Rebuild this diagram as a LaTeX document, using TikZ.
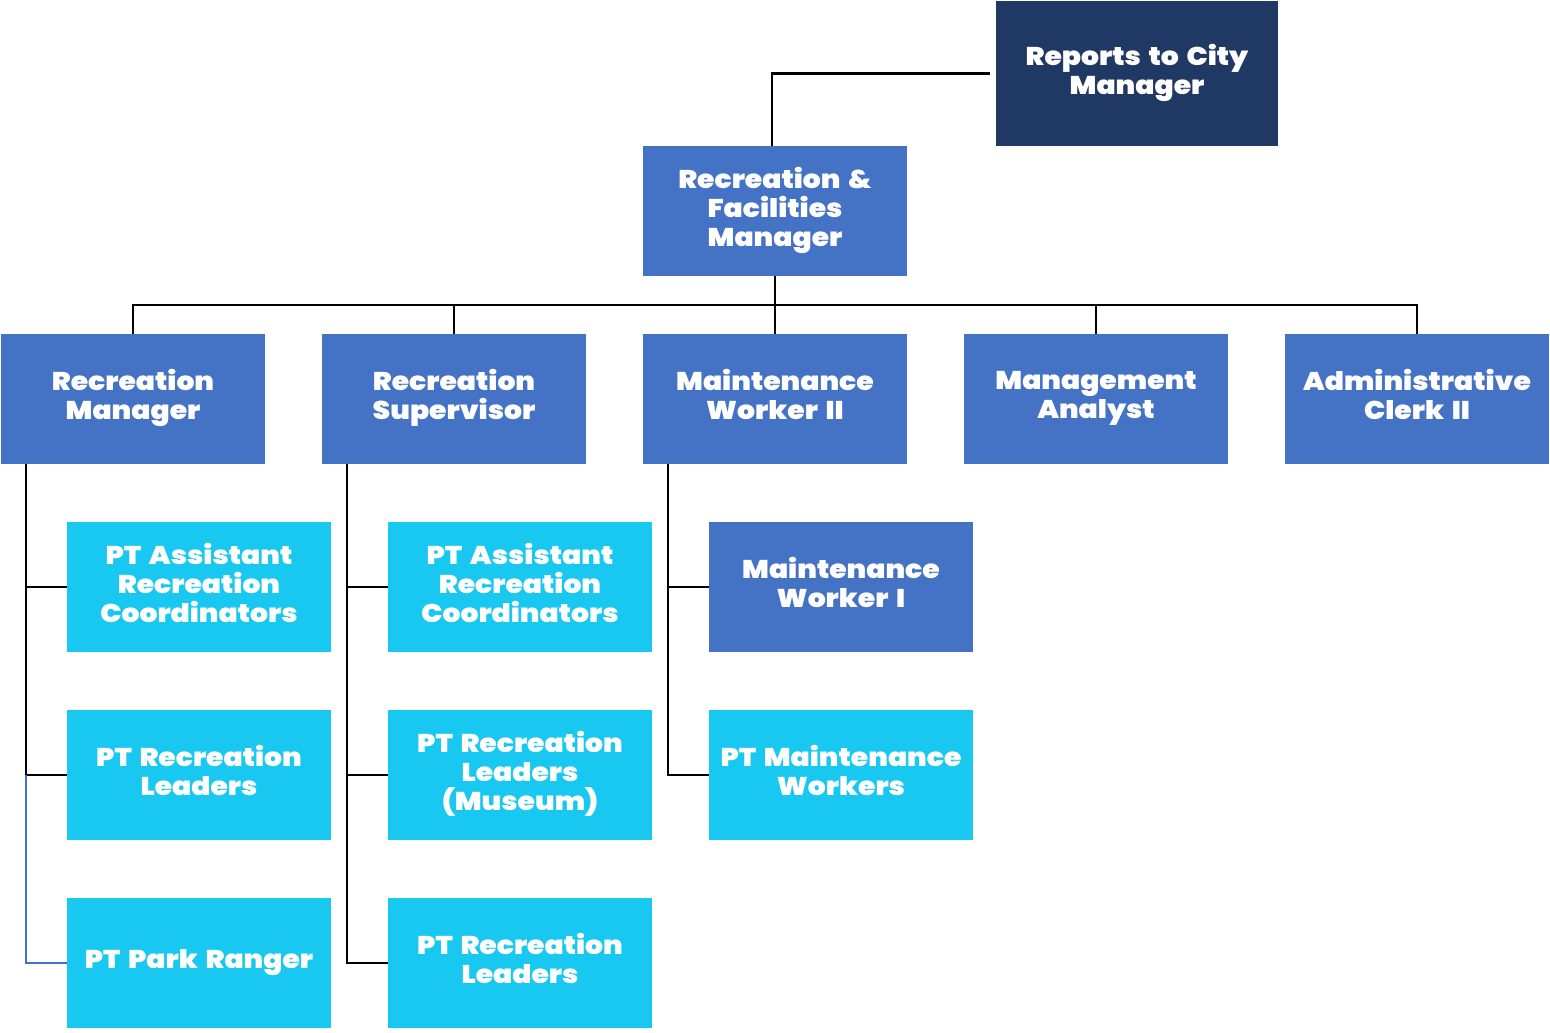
\documentclass[tikz,border=0pt]{standalone}
\usepackage{fontspec}
\setmainfont{Poppins}[BoldFont={Poppins Black},BoldFeatures={FakeStretch=1.1,WordSpace=1.6}]
\usetikzlibrary{positioning}

\definecolor{darkbox}{HTML}{203864}
\definecolor{midbox}{HTML}{4472C4}
\definecolor{lightbox}{HTML}{18C8F0}

\begin{document}
\begin{tikzpicture}[auto,line width=0.6pt]
\tikzstyle{post}=[rectangle,fill=midbox,text=white,inner sep=0pt,outer sep=0pt,minimum width=2.64cm,minimum height=1.30cm,align=center,font=\fontsize{7.3}{8.2}\selectfont\bfseries,execute at begin node=\strut,execute at end node=\strut]
\tikzstyle{part}=[post,fill=lightbox]
\tikzstyle{head}=[post,fill=darkbox,minimum width=2.82cm,minimum height=1.45cm]

\useasboundingbox (0,0) rectangle (15.5,-10.32);

%\node[post] (Z) at (0,0) {};
\node[post]         (B) at (7.75,-2.11) {Recreation \&\\Facilities\\Manager};
\node[head]         (A) [above right=0cm and 0.89cm of B] {Reports to City\\Manager};
\node[post]         (E) [below=0.58cm of B] {Maintenance\\Worker II};
\node[post]         (D) [left=0.57cm of E] {Recreation\\Supervisor};
\node[post]         (C) [left=0.57cm of D] {Recreation\\Manager};
\node[post]         (F) [right=0.57cm of E] {Management\\Analyst};
\node[post]         (G) [right=0.57cm of F] {Administrative\\Clerk II};
\node[part]         (H) [below=0.58cm of C,xshift=0.66cm] {PT Assistant\\Recreation\\Coordinators};
\node[part]         (I) [below=0.58cm of H] {PT Recreation\\Leaders};
\node[part]         (J) [below=0.58cm of I] {PT Park Ranger};
\node[part]         (K) [below=0.58cm of D,xshift=0.66cm] {PT Assistant\\Recreation\\Coordinators};
\node[part]         (L) [below=0.58cm of K] {PT Recreation\\Leaders\\(Museum)};
\node[part]         (M) [below=0.58cm of L] {PT Recreation\\Leaders};
\node[post]         (N) [below=0.58cm of E,xshift=0.66cm] {Maintenance\\Worker I};
\node[part]         (O) [below=0.58cm of N] {PT Maintenance\\Workers};

\coordinate (P) at ([xshift=-0.06cm]A.west);
\coordinate (Q) at ([yshift=-0.29cm]B.south);
\coordinate (R) at ([xshift=0.25cm]C.south west);
\coordinate (S) at ([xshift=0.25cm]D.south west);
\coordinate (T) at ([xshift=0.25cm]E.south west);

\draw (P) -| ([xshift=-0.03cm]B.north);
\draw[line width=0.8pt] (B.south) -- (Q);
\draw[line width=0.8pt] (C.north) |- (Q) -| (G.north);
\draw (D.north) -- (D.north |- Q);
\draw (E.north) -- (E.north |- Q);
\draw (F.north) -- (F.north |- Q);
\draw (R) |- (H.west);
\draw (R) |- (I.west);
\draw[midbox] (R |- I.west) |- (J.west);
\draw (S) |- (K.west);
\draw (S) |- (L.west);
\draw (S) |- (M.west);
\draw (T) |- (N.west);
\draw (T) |- (O.west);

\end{tikzpicture}
\end{document}
